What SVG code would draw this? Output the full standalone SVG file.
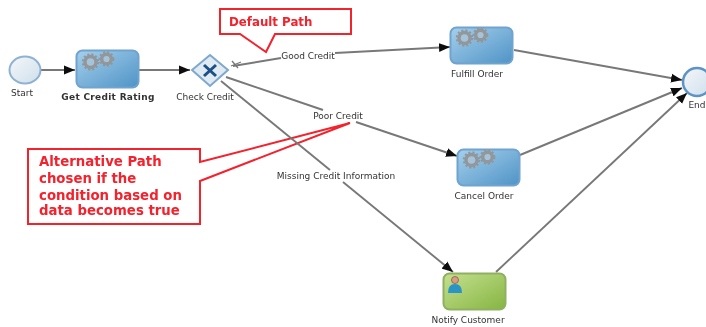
<svg xmlns="http://www.w3.org/2000/svg" width="706" height="327" viewBox="0 0 706 327">
<style>
.lbl{font-family:"DejaVu Sans","Liberation Sans",sans-serif;font-size:9px;fill:#333;text-anchor:middle}
.flow{fill:none;stroke:#787878;stroke-width:1.9}
.task{stroke:#6fa3cf;stroke-width:2;fill:url(#blue)}
.gear{fill:#a5c4da;stroke:#92979b;stroke-width:3.4}
.gearT{fill:none;stroke:#92979b;stroke-width:2.4;stroke-dasharray:2 2}
.red{fill:#fff;stroke:#f4202c;stroke-width:2}
.redt{font-family:"DejaVu Sans","Liberation Sans",sans-serif;font-size:11.800px;font-weight:bold;fill:#f4202c}
.big{font-size:13.300px}
</style>
<defs>
<linearGradient id="blue" x1="0" y1="0" x2="1" y2="1"><stop offset="0" stop-color="#a5d0ec"/><stop offset="1" stop-color="#4f93c6"/></linearGradient>
<linearGradient id="green" x1="0" y1="0" x2="1" y2="1"><stop offset="0" stop-color="#c5e08f"/><stop offset="1" stop-color="#85b542"/></linearGradient>
<linearGradient id="pale" x1="0" y1="0" x2="1" y2="1"><stop offset="0" stop-color="#f4f7fa"/><stop offset="1" stop-color="#cfdfeb"/></linearGradient>
<marker id="arr" markerUnits="userSpaceOnUse" markerWidth="12" markerHeight="10" refX="11" refY="5" orient="auto"><path d="M0 0.5L11 5L0 9.500z" fill="#111"/></marker>
<filter id="soft" x="-2%" y="-2%" width="104%" height="104%"><feGaussianBlur stdDeviation="0.7"/></filter>
<g id="gears"><circle cx="14.500" cy="12" r="5.500" class="gear"/><circle cx="14.500" cy="12" r="7.500" class="gearT"/><circle cx="30.500" cy="9" r="4.800" class="gear"/><circle cx="30.500" cy="9" r="6.700" class="gearT"/></g>
</defs>
<g filter="url(#soft)">
<g id="default-path"><path class="red" d="M220 9H351V34H275L266 52L240 34H220z"/><text class="redt" x="229" y="26">Default Path</text></g>
<g id="alternative-path"><path class="red" d="M28 149H200V162L350 123L200 181V224H28z"/><text class="redt big"><tspan x="39" y="166">Alternative Path</tspan><tspan x="39" y="183">chosen if the</tspan><tspan x="39" y="200">condition based on</tspan><tspan x="39" y="215">data becomes true</tspan></text></g>
<g id="connectors">
<path class="flow" d="M41 70H75" marker-end="url(#arr)"/>
<path class="flow" d="M139 70H190" marker-end="url(#arr)"/>
<path class="flow" d="M233 66L281 58"/>
<path class="flow" d="M335 53L450 47" marker-end="url(#arr)"/>
<path d="M231 66L241 62M232 61L238 68" fill="none" stroke="#787878" stroke-width="1.300"/>
<path class="flow" d="M226 77L323 110"/>
<path class="flow" d="M356 122L457 156" marker-end="url(#arr)"/>
<path class="flow" d="M221 81L330 170"/>
<path class="flow" d="M343 182L453 272" marker-end="url(#arr)"/>
<path class="flow" d="M514 50L682 80" marker-end="url(#arr)"/>
<path class="flow" d="M520 155L682 88" marker-end="url(#arr)"/>
<path class="flow" d="M496 272L687 93" marker-end="url(#arr)"/>
</g>
<g id="start"><ellipse cx="25" cy="70" rx="15.500" ry="13.500" fill="url(#pale)" stroke="#8fb2d2" stroke-width="2"/><text class="lbl" x="22" y="96">Start</text></g>
<g id="get-credit-rating"><rect class="task" x="76.500" y="50.500" width="62" height="37" rx="6"/><use href="#gears" x="76" y="50"/><text class="lbl" x="108" y="100" style="font-weight:bold" letter-spacing="0.300">Get Credit Rating</text></g>
<g id="check-credit"><path d="M210 55L228 70L210 86L192 70z" fill="#dfeaf3" stroke="#7ea8cc" stroke-width="2"/><path d="M204 65L216 76M216 65L204 76" stroke="#1d4f86" stroke-width="3" fill="none"/><text class="lbl" x="205" y="100">Check Credit</text></g>
<g id="fulfill-order"><rect class="task" x="450.500" y="27.500" width="62" height="36" rx="6"/><use href="#gears" x="450" y="26"/><text class="lbl" x="477" y="77">Fulfill Order</text></g>
<g id="cancel-order"><rect class="task" x="457.500" y="149.500" width="62" height="36" rx="6"/><use href="#gears" x="457" y="148"/><text class="lbl" x="484" y="199">Cancel Order</text></g>
<g id="notify-customer"><rect x="443.500" y="273.500" width="62" height="36" rx="6" fill="url(#green)" stroke="#8fb060" stroke-width="2"/><circle cx="455" cy="280" r="3.500" fill="#d99a84" stroke="#8a5a48" stroke-width="0.800"/><path d="M448 293Q448 284 455 284Q462 284 462 293z" fill="#2a94c4"/><text class="lbl" x="468" y="323">Notify Customer</text></g>
<g id="end"><circle cx="697" cy="82" r="14" fill="url(#pale)" stroke="#5d94c6" stroke-width="2.500"/><text class="lbl" x="697" y="108">End</text></g>
<g id="labels"><text class="lbl" x="308" y="59">Good Credit</text><text class="lbl" x="338" y="119">Poor Credit</text><text class="lbl" x="336" y="179">Missing Credit Information</text></g>
</g>
</svg>
